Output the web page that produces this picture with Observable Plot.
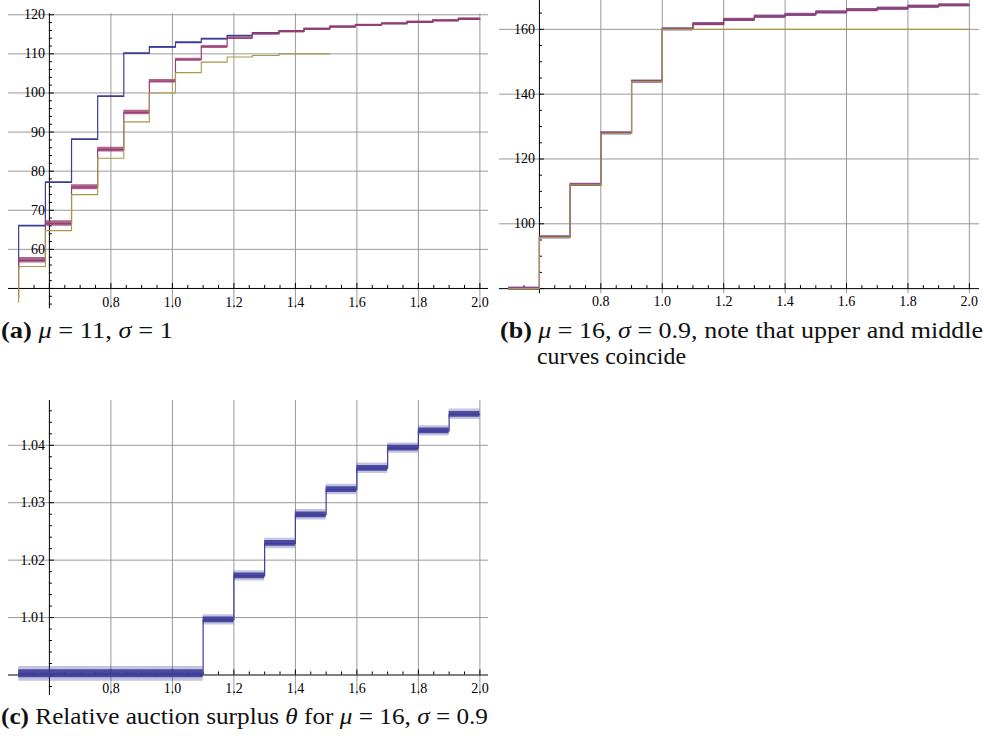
<!DOCTYPE html>
<html><head><meta charset="utf-8">
<script src="https://cdn.jsdelivr.net/npm/d3@7"></script>
<script src="https://cdn.jsdelivr.net/npm/@observablehq/plot@0.6"></script>
<style>
body{margin:0;background:#fff;}
#wrap{position:relative;width:984px;height:738px;overflow:hidden;background:#fff;}
#wrap > svg{position:absolute;}
</style></head><body><div id="wrap"></div>
<script>
// ---------- data: panel (a)  mu = 11, sigma = 1 ----------
const xStepsA = [0.5, 0.587, 0.672, 0.757, 0.842, 0.925, 1.01, 1.094, 1.178, 1.26, 1.347, 1.428, 1.512, 1.595, 1.68, 1.763, 1.847, 1.93, 2.0];
const upperA  = [66.0, 77.1, 88.1, 99.1, 110.1, 111.7, 112.9, 113.8, 114.6, 115.3, 115.8, 116.4, 116.9, 117.3, 117.7, 118.1, 118.5, 118.9];
const middleA = [57.2, 66.6, 75.9, 85.5, 95.0, 103.0, 108.5, 111.8, 114.0, 115.1, 115.7, 116.3, 116.9, 117.3, 117.7, 118.1, 118.5, 118.9];
const lowerA  = [55.6, 64.8, 74.0, 83.3, 92.6, 100.0, 105.2, 107.9, 109.2, 109.6, 110.0, 110.0];
const startA  = {upper: 55.0, middle: 47.6, lower: 46.5};
const middleNoiseA = [0.7, 0.7, 0.65, 0.6, 0.55, 0.45, 0.4, 0.35, 0.3, 0.28, 0.28, 0.28, 0.28, 0.28, 0.28, 0.28, 0.28, 0.28];
const upperNoiseA = 0.18;
const xLabelsA = [0.8, 1.0, 1.2, 1.4, 1.6, 1.8, 2.0];
const yLabelsA = [60, 70, 80, 90, 100, 110, 120];

// ---------- data: panel (b)  mu = 16, sigma = 0.9 ----------
const xStepsB = [0.5, 0.6, 0.7, 0.8, 0.9, 1.0, 1.1, 1.2, 1.3, 1.4, 1.5, 1.6, 1.7, 1.8, 1.9, 2.0];
const upperB  = [80.0, 95.8, 112.0, 127.9, 143.9, 160.0, 161.6, 162.9, 163.9, 164.5, 165.2, 165.9, 166.4, 167.0, 167.4];
const middleB = [80.0, 95.8, 112.0, 127.9, 143.9, 160.0, 161.6, 162.9, 163.9, 164.5, 165.2, 165.9, 166.4, 167.0, 167.4];
const lowerB  = [80.0, 95.8, 112.0, 127.9, 143.9, 160.0, 160.0, 160.0, 160.0, 160.0, 160.0, 160.0, 160.0, 160.0, 160.0];
const xLabelsB = [0.8, 1.0, 1.2, 1.4, 1.6, 1.8, 2.0];
const yLabelsB = [100, 120, 140, 160];

// ---------- data: panel (c)  relative auction surplus theta ----------
const xStepsC = [0.5, 1.1, 1.2, 1.3, 1.4, 1.5, 1.6, 1.7, 1.8, 1.9, 2.0];
const thetaC  = [1.0002, 1.0096, 1.01725, 1.0229, 1.0279, 1.0323, 1.0360, 1.0395, 1.0425, 1.0454];
const thetaNoiseCore  = [0.0007, 0.0005, 0.0005, 0.0005, 0.0005, 0.0005, 0.0005, 0.0005, 0.0005, 0.0005];
const thetaNoiseSpike = [0.0013, 0.0009, 0.0009, 0.0009, 0.0009, 0.0009, 0.0009, 0.0009, 0.0009, 0.0009];
const xLabelsC = [0.8, 1.0, 1.2, 1.4, 1.6, 1.8, 2.0];
const yLabelsC = [1.01, 1.02, 1.03, 1.04];

// ---------- styling ----------
const FONT = "Liberation Serif";
const GRID = "#999999";
const C_BLUE = "#3d3d99", C_MAG = "#993d71", C_YEL = "#a89848";

function stepPts(xs, levels, start) {
  const pts = [];
  if (start != null) pts.push({x: xs[0], y: start});
  levels.forEach((v, i) => pts.push({x: xs[i], y: v}));
  pts.push({x: xs[levels.length], y: levels[levels.length - 1]});
  return pts;
}
function bandPts(xs, levels, noise) {
  const n = levels.length;
  const nz = i => Array.isArray(noise) ? noise[i] : noise;
  const pts = levels.map((v, i) => ({x: xs[i], y1: v - nz(i), y2: v + nz(i)}));
  pts.push({x: xs[n], y1: levels[n - 1] - nz(n - 1), y2: levels[n - 1] + nz(n - 1)});
  return pts;
}

function panel(cfg) {
  const {width, height, ml, mr, mt, mb, xDomain, yDomain, x0, y0} = cfg;
  const pxX = (width - ml - mr) / (xDomain[1] - xDomain[0]);
  const pxY = (height - mt - mb) / (yDomain[1] - yDomain[0]);
  const seriesMarks = cfg.series.flatMap(s => {
    const m = [];
    (s.bands || []).forEach(b => m.push(Plot.areaY(bandPts(s.xs, s.levels, b.noise),
      {x: "x", y1: "y1", y2: "y2", curve: "step-after", fill: s.color, fillOpacity: b.opacity})));
    m.push(Plot.line(stepPts(s.xs, s.levels, s.start),
      {x: "x", y: "y", curve: "step-after", stroke: s.color, strokeWidth: s.sw || 1.2}));
    return m;
  });
  const marks = [
    Plot.ruleY(cfg.gridY, {stroke: GRID, strokeWidth: 1}),
    Plot.ruleX(cfg.gridX, {stroke: GRID, strokeWidth: 1}),
    Plot.ruleY([y0], {stroke: "#000", strokeWidth: 1}),
    Plot.ruleX([x0], {stroke: "#000", strokeWidth: 1}),
    Plot.ruleX(cfg.minorX, {y1: y0, y2: y0 + 3 / pxY, stroke: "#000"}),
    Plot.ruleX(cfg.majorX, {y1: y0, y2: y0 + 5 / pxY, stroke: "#000"}),
    Plot.ruleY(cfg.minorY, {x1: x0, x2: x0 + 3 / pxX, stroke: "#000"}),
    Plot.ruleY(cfg.majorY, {x1: x0, x2: x0 + 5 / pxX, stroke: "#000"}),
    ...seriesMarks,
    Plot.text(cfg.xLabels, {x: d => d, y: y0, dy: cfg.xLabelDy, text: d => d.toFixed(1),
      fontFamily: FONT, fontSize: 14, fill: "#000"}),
    Plot.text(cfg.yLabels, {x: x0, y: d => d, dx: -4.5, textAnchor: "end", text: cfg.yFmt,
      fontFamily: FONT, fontSize: 14, fill: "#000"})
  ];
  const svg = Plot.plot({
    width, height, marginLeft: ml, marginRight: mr, marginTop: mt, marginBottom: mb,
    x: {domain: xDomain, axis: null},
    y: {domain: yDomain, axis: null},
    style: {background: "transparent", overflow: "visible"},
    marks
  });
  svg.style.left = cfg.left + "px";
  svg.style.top = cfg.top + "px";
  return svg;
}

const wrap = document.getElementById("wrap");
const minorX = d3.range(11, 41).filter(i => i % 4 !== 0).map(i => i / 20);
const majorX = [0.6, 0.8, 1.0, 1.2, 1.4, 1.6, 1.8, 2.0];

// (a)
wrap.appendChild(panel({
  left: 0, top: 0, width: 492, height: 318, ml: 8, mr: 4, mt: 13.1, mb: 9.7,
  xDomain: [0.467, 2.028], yDomain: [44.8, 120.3], x0: 0.6, y0: 50,
  gridX: xLabelsA, gridY: yLabelsA,
  minorX, majorX,
  minorY: d3.range(23, 61).filter(i => i % 5 !== 0).map(i => i * 2),
  majorY: [50, ...yLabelsA],
  xLabels: xLabelsA, yLabels: yLabelsA, yFmt: d => String(d), xLabelDy: 14.5,
  series: [
    {xs: xStepsA, levels: upperA, start: startA.upper, color: C_BLUE, bands: [{noise: upperNoiseA, opacity: 1}]},
    {xs: xStepsA, levels: middleA, start: startA.middle, color: C_MAG, bands: [{noise: middleNoiseA, opacity: 0.8}]},
    {xs: xStepsA.slice(0, lowerA.length + 1), levels: lowerA, start: startA.lower, color: C_YEL, sw: 1.1}
  ]
}));

// (b)
wrap.appendChild(panel({
  left: 490, top: 0, width: 494, height: 318, ml: 9, mr: 5, mt: 0, mb: 24.7,
  xDomain: [0.47, 2.033], yDomain: [78.4, 168.9], x0: 0.6, y0: 80,
  gridX: xLabelsB, gridY: yLabelsB,
  minorX, majorX,
  minorY: d3.range(16, 34).filter(i => i % 4 !== 0).map(i => i * 5),
  majorY: [80, ...yLabelsB],
  xLabels: xLabelsB, yLabels: yLabelsB, yFmt: d => String(d), xLabelDy: 13.4,
  series: [
    {xs: xStepsB, levels: upperB, color: C_BLUE, bands: [{noise: 0.5, opacity: 0.7}]},
    {xs: xStepsB, levels: middleB, color: C_MAG, bands: [{noise: 0.35, opacity: 0.85}]},
    {xs: xStepsB, levels: lowerB, color: C_YEL, sw: 1.1}
  ]
}));

// (c)
wrap.appendChild(panel({
  left: 0, top: 390, width: 492, height: 318, ml: 8, mr: 4, mt: 10, mb: 13,
  xDomain: [0.467, 2.028], yDomain: [0.99643, 1.0478], x0: 0.6, y0: 1.0,
  gridX: xLabelsC, gridY: yLabelsC,
  minorX, majorX,
  minorY: d3.range(499, 524).filter(i => i % 5 !== 0).map(i => i * 0.002),
  majorY: [1.0, ...yLabelsC],
  xLabels: xLabelsC, yLabels: yLabelsC, yFmt: d => d.toFixed(2), xLabelDy: 13.7,
  series: [
    {xs: xStepsC, levels: thetaC, color: C_BLUE,
     bands: [{noise: thetaNoiseSpike, opacity: 0.3}, {noise: thetaNoiseCore, opacity: 0.9}]}
  ]
}));

// ---------- captions (real text) ----------
const captions = [
  {x: 1, y: 338, len: 172, parts: [["(a)", "b"], [" "], ["μ", "i"], [" = 11, "], ["σ", "i"], [" = 1"]]},
  {x: 500, y: 338, len: 483, parts: [["(b)", "b"], [" "], ["μ", "i"], [" = 16, "], ["σ", "i"], [" = 0.9, note that upper and middle"]]},
  {x: 537, y: 364, len: 149, parts: [["curves coincide"]]},
  {x: 1, y: 724, len: 487, parts: [["(c)", "b"], [" Relative auction surplus "], ["θ", "i"], [" for "], ["μ", "i"], [" = 16, "], ["σ", "i"], [" = 0.9"]]}
];
const cap = d3.create("svg").attr("width", 984).attr("height", 738)
  .style("left", "0px").style("top", "0px").style("position", "absolute");
captions.forEach(c => {
  const t = cap.append("text").attr("x", c.x).attr("y", c.y)
    .attr("font-family", FONT).attr("font-size", 22.5).attr("fill", "#111")
    .attr("textLength", c.len).attr("lengthAdjust", "spacingAndGlyphs")
    .style("white-space", "pre");
  c.parts.forEach(([s, f]) => {
    const ts = t.append("tspan").text(s);
    if (f === "b") ts.attr("font-weight", "bold");
    if (f === "i") ts.attr("font-style", "italic");
  });
});
wrap.appendChild(cap.node());
</script>
</body></html>
